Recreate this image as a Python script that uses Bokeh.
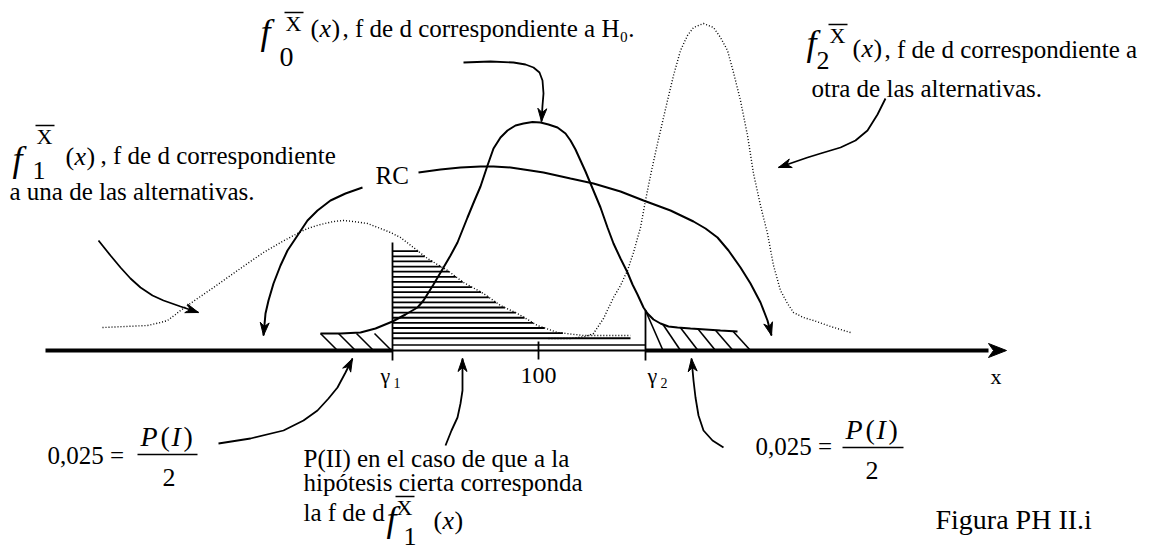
import numpy as np
from bokeh.plotting import figure
from bokeh.models import Range1d
from bokeh.core.properties import value
from bokeh.embed import file_html
from bokeh.resources import INLINE

# ---------------------------------------------------------------------------
# Drawing frame: x in units of the variable (H0 centred at 100),
# y = height above the x axis (density curves drawn as positive heights).
# ---------------------------------------------------------------------------
X_MIN, X_MAX = 46.2, 161.4
Y_MIN, Y_MAX = -200, 350
W, H = 1152, 550

MU_0 = 100
GAMMA_1 = 85.4
GAMMA_2 = 110.7
AXIS_START, AXIS_END = 50.7, 146.8

# f0: density under H0
F0_X = [78.2, 80.2, 82.2, 83.7, 85.4, 86.7, 87.9, 88.5, 89.5, 90.5, 91.2, 91.9,
        92.9, 93.6, 94.2, 94.9, 95.5, 96.2, 96.9, 97.7, 98.5, 99.4, 100.2, 101.0,
        101.9, 102.7, 103.2, 103.7, 104.2, 104.7, 105.2, 106.2, 106.9, 107.5,
        108.2, 108.9, 109.4, 109.9, 110.5, 110.9, 111.5, 112.2, 113.0, 113.9,
        115.2, 116.7, 118.2, 119.9]
F0_Y = [17, 17, 18, 22, 29, 36, 43, 50, 66, 83, 95, 108, 133, 150, 164, 185, 202,
        213, 220, 225, 227, 228.5, 228, 226, 223, 217, 210, 201, 190, 179, 167,
        143, 123, 107, 92, 78, 66, 56, 43, 37, 31, 27, 24, 23, 22, 21, 20, 19]

# f1: density under the first alternative (dotted)
F1_X = [56.4, 58.7, 60.9, 62.2, 62.9, 63.7, 64.2, 65.9, 67.5, 69.2, 70.9, 72.5,
        74.2, 75.7, 76.9, 78.2, 79.5, 80.5, 81.5, 82.9, 84.2, 85.2, 86.2, 87.5,
        88.9, 90.9, 92.5, 94.5, 96.2, 97.9, 99.9, 101.9, 104.5, 109.2]
F1_Y = [23, 24, 25, 28, 30, 36, 40, 52, 63, 75, 87, 98, 108, 116, 122, 126, 129,
        130, 129, 127, 122, 118, 113, 103, 92, 80, 68, 57, 45, 37, 25, 18, 15, 15]

# f2: density under the second alternative (dotted)
F2_X = [101.0, 103.2, 104.7, 105.5, 106.5, 107.5, 108.2, 108.9, 109.5, 110.2,
        110.7, 111.2, 111.9, 112.9, 113.5, 114.2, 114.9, 115.5, 116.5, 117.5,
        118.2, 118.9, 119.5, 120.2, 120.9, 121.5, 122.2, 122.9, 123.5, 124.2,
        124.9, 125.5, 126.5, 127.5, 129.2, 131.2]
F2_Y = [12, 12, 14, 17, 32, 53, 65, 80, 98, 123, 150, 175, 207, 250, 275, 300,
        315, 323, 327, 323, 313, 300, 278, 250, 215, 177, 145, 117, 85, 60, 47,
        38, 33, 30, 24, 18]

# Leader / pointer paths (each ends in an arrow head)
RC_RIGHT_X = [88.0, 90.2, 92.2, 94.2, 95.5, 97.2, 99.2, 100.5, 103.2, 105.5, 108.2,
              110.5, 113.2, 115.5, 116.7, 117.9, 119.0, 120.2, 121.2, 122.2, 122.9, 123.3]
RC_RIGHT_Y = [178, 181, 183, 184, 184, 183, 180, 178, 172, 167, 159, 150, 140, 129,
              122, 113, 100, 83, 67, 48, 30, 15]
RC_LEFT_X = [82.4, 80.7, 79.2, 77.9, 76.9, 75.9, 74.9, 74.2, 73.5, 73.0, 72.7, 72.5]
RC_LEFT_Y = [163, 157, 150, 140, 130, 115, 100, 85, 67, 50, 37, 15]
PTR_F1_X = [56.0, 57.2, 58.2, 59.2, 60.2, 61.4, 62.5, 64.2, 66.0]
PTR_F1_Y = [110, 95, 83, 72, 63, 55, 50, 44, 38]
PTR_F0_X = [92.5, 95.2, 97.5, 98.7, 99.5, 100.1, 100.4, 100.5, 100.4, 100.3]
PTR_F0_Y = [288, 289, 288, 286, 283, 278, 270, 257, 245, 229]
PTR_F2_X = [134.7, 133.9, 132.9, 131.7, 130.2, 128.2, 126.9, 124.0]
PTR_F2_Y = [252, 236, 220, 210, 203, 197, 193, 183]
PTR_ALPHA_L_X = [68.0, 71.2, 74.5, 76.5, 77.9, 79.0, 79.9, 80.7, 81.4]
PTR_ALPHA_L_Y = [-93, -88, -80, -70, -60, -48, -37, -22, -8]
PTR_BETA_X = [90.7, 91.3, 91.9, 92.2, 92.4, 92.4, 92.4]
PTR_BETA_Y = [-95, -80, -67, -53, -40, -25, -8]
PTR_ALPHA_R_X = [118.5, 117.4, 116.5, 116.0, 115.7, 115.5, 115.3]
PTR_ALPHA_R_Y = [-97, -90, -80, -65, -47, -30, -8]

TICK_LABEL_CENTER = "100"
ALPHA_HALF = "0,025"

INK = "black"
SERIF = value("Liberation Serif")
PX_X = W / (X_MAX - X_MIN)   # screen px per x unit
PX_Y = H / (Y_MAX - Y_MIN)   # screen px per y unit
BASELINE_SHIFT = 0.32        # em lift so the glyph baseline sits on y

p = figure(width=W, height=H, x_range=Range1d(X_MIN, X_MAX),
           y_range=Range1d(Y_MIN, Y_MAX), x_axis_type=None, y_axis_type=None,
           output_backend="svg", toolbar_location=None, min_border=0)
p.grid.visible = False
p.outline_line_color = None
p.background_fill_color = "white"
p.border_fill_color = "white"


def arrow_head(xs, ys, length=13.0, half=4.5, notch=4.0):
    """Barbed arrow head at the last point of a path, aligned with its last step."""
    tx, ty = xs[-1], ys[-1]
    dx = (xs[-1] - xs[-2]) * PX_X
    dy = (ys[-1] - ys[-2]) * PX_Y
    n = np.hypot(dx, dy)
    ux, uy = dx / n, dy / n
    nx, ny = -uy, ux
    bx, by = -length * ux, -length * uy
    pts = [(0, 0),
           (bx + half * nx, by + half * ny),
           (-(length - notch) * ux, -(length - notch) * uy),
           (bx - half * nx, by - half * ny)]
    return ([tx + a / PX_X for a, _ in pts], [ty + b / PX_Y for _, b in pts])


def pointer(xs, ys, width=1.8, **head):
    p.line(xs, ys, line_color=INK, line_width=width)
    hx, hy = arrow_head(xs, ys, **head)
    p.patch(hx, hy, fill_color=INK, line_color=INK, line_width=1)


def txt(x, y, s, size, style="normal", align="left"):
    p.text(x=[x], y=[y + BASELINE_SHIFT * size / PX_Y], text=[s], text_font=SERIF,
           text_font_size=f"{size}px", text_font_style=style, text_align=align,
           text_baseline="alphabetic", text_color=INK)


# --- density curves -------------------------------------------------------
p.line(F1_X, F1_Y, line_color=INK, line_width=1.4, line_dash="1 2")
p.line(F2_X, F2_Y, line_color=INK, line_width=1.4, line_dash="1 2")
p.line(F0_X, F0_Y, line_color=INK, line_width=2)

# --- P(II): horizontal hatching under f1 between gamma1 and gamma2 --------
peak = int(np.argmax(F1_Y))
desc_x = np.array(F1_X[peak:])[::-1]
desc_y = np.array(F1_Y[peak:])[::-1]
levels = 99.3 - 5.12 * np.arange(18)
ends = np.minimum(np.interp(levels, desc_y, desc_x), GAMMA_2)
p.segment(x0=[GAMMA_1] * len(levels), y0=levels, x1=ends, y1=levels,
          line_color=INK, line_width=1.8)
p.segment(x0=[GAMMA_1], y0=[5.5], x1=[GAMMA_2], y1=[5.5], line_color=INK, line_width=1.6)

# --- P(I)/2 tails: diagonal hatching ---------------------------------------
left_x = F0_X[0] + 1.8 * np.arange(4)
left_top = np.full(len(left_x), F0_Y[0])
p.segment(x0=left_x, y0=left_top, x1=left_x + 1.7, y1=np.zeros(len(left_x)),
          line_color=INK, line_width=1.6)
right_x = GAMMA_2 + 1.75 * np.arange(6)
right_top = np.interp(right_x, F0_X, F0_Y)
p.segment(x0=right_x, y0=right_top, x1=right_x + 1.75, y1=np.zeros(len(right_x)),
          line_color=INK, line_width=1.6)

# --- x axis ------------------------------------------------------------------
axis_shaft_end = AXIS_END - 1.8
p.segment(x0=[AXIS_START, GAMMA_2], y0=[0, 0], x1=[GAMMA_1, axis_shaft_end], y1=[0, 0],
          line_color=INK, line_width=4)
p.segment(x0=[GAMMA_1], y0=[0], x1=[GAMMA_2], y1=[0], line_color=INK, line_width=2)
hx, hy = arrow_head([AXIS_START, AXIS_END], [0, 0], length=18, half=7, notch=5)
p.patch(hx, hy, fill_color=INK, line_color=INK)

gamma2_top = float(np.interp(GAMMA_2, F0_X, F0_Y))
p.segment(x0=[GAMMA_1, MU_0, GAMMA_2], y0=[108, 9, gamma2_top],
          x1=[GAMMA_1, MU_0, GAMMA_2], y1=[-10, -9, -10],
          line_color=INK, line_width=1.8)

txt(84.2, -32, "γ", 22)
txt(85.5, -37, "1", 14)
txt(MU_0, -33, TICK_LABEL_CENTER, 24, align="center")
txt(110.9, -32, "γ", 22)
txt(112.2, -37, "2", 14)
txt(145.2, -33, "x", 22)

# --- leaders -----------------------------------------------------------------
pointer(RC_RIGHT_X, RC_RIGHT_Y, width=2)
pointer(RC_LEFT_X, RC_LEFT_Y, width=2)
pointer(PTR_F1_X, PTR_F1_Y)
pointer(PTR_F0_X, PTR_F0_Y)
pointer(PTR_F2_X, PTR_F2_Y)
pointer(PTR_ALPHA_L_X, PTR_ALPHA_L_Y)
pointer(PTR_BETA_X, PTR_BETA_Y)
pointer(PTR_ALPHA_R_X, PTR_ALPHA_R_Y)

txt(83.7, 167, "RC", 25)


def density_symbol(xf, yf, xs, ys, sub, xX, yX, xp, yp, sub_size=26):
    """f with numeric subscript, X-bar superscript and (x)."""
    txt(xf, yf, "f", 36, "italic")
    txt(xs, ys, sub, sub_size)
    txt(xX, yX, "X", 22)
    p.segment(x0=[xX - 0.1], y0=[yX + 18], x1=[xX + 1.8], y1=[yX + 18],
              line_color=INK, line_width=1.5)
    txt(xp, yp, "(", 26)
    txt(xp + 0.9, yp, "x", 26, "italic")
    txt(xp + 2.1, yp, ")", 26)


# f0 label
density_symbol(72.2, 307, 74.1, 285, "0", 74.7, 320, 77.2, 314, sub_size=28)
txt(80.4, 314, ", f de d correspondiente a H₀.", 25)

# f1 label
density_symbol(47.4, 180, 49.4, 172, "1", 49.8, 207, 52.7, 186)
txt(56.2, 187, ", f de d correspondiente", 25)
txt(47.1, 151, "a una de las alternativas.", 25)

# f2 label
density_symbol(126.8, 296, 127.8, 282, "2", 129.1, 308, 131.4, 294)
txt(134.6, 293, ", f de d correspondiente a", 25)
txt(127.3, 254, "otra de las alternativas.", 25)

# P(II) note
txt(76.5, -116, "P(II) en el caso de que a la", 25)
txt(76.5, -140, "hipótesis cierta corresponda", 25)
txt(76.5, -170, "la f de d", 25)
density_symbol(84.8, -180, 86.5, -194, "1", 85.8, -164, 89.5, -178)


def alpha_half(x0, y0, xP, yP, bar_x0, bar_x1, bar_y, x2, y2):
    txt(x0, y0, ALPHA_HALF + " =", 25)
    txt(xP, yP, "P", 28, "italic")
    txt(xP + 2.0, yP, "(", 28)
    txt(xP + 3.1, yP, "I", 28, "italic")
    txt(xP + 4.3, yP, ")", 28)
    p.segment(x0=[bar_x0], y0=[bar_y], x1=[bar_x1], y1=[bar_y], line_color=INK, line_width=1.5)
    txt(x2, y2, "2", 26)


alpha_half(50.9, -113, 60.2, -95, 59.9, 65.9, -104, 62.4, -135)
alpha_half(121.7, -104, 130.7, -88, 130.4, 136.5, -97, 132.7, -128)

txt(139.7, -178, "Figura PH II.i", 28)

open("out.html", "w").write(file_html(p, INLINE))
